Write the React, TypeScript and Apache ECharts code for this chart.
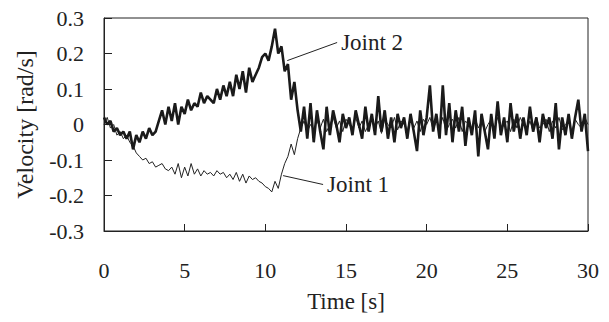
import React, { useEffect, useRef } from "react";
import * as echarts from "echarts";

const DT = 0.2;
const xTicks = [0, 5, 10, 15, 20, 25, 30];
const yTicks = [-0.3, -0.2, -0.1, 0, 0.1, 0.2, 0.3];

const joint2 = [
  0.02, 0.0, 0.01, -0.02, -0.01, -0.03, -0.02, -0.04, -0.02, -0.07,
  -0.03, -0.05, -0.02, -0.04, -0.01, -0.03, -0.02, 0.01, 0.04, 0.0,
  0.05, 0.01, 0.06, 0.0, 0.05, 0.03, 0.07, 0.04, 0.06, 0.05,
  0.09, 0.06, 0.08, 0.07, 0.06, 0.1, 0.07, 0.11, 0.08, 0.12,
  0.08, 0.14, 0.1, 0.15, 0.09, 0.16, 0.12, 0.14, 0.16, 0.19,
  0.2, 0.18, 0.22, 0.27, 0.2, 0.22, 0.15, 0.17, 0.07, 0.12,
  0.04, -0.02, 0.05, -0.04, 0.06, -0.05, 0.04, -0.02, -0.07, 0.05,
  -0.03, 0.04, 0.0, -0.05, 0.03, -0.01, 0.02, -0.03, 0.04, 0.0,
  -0.04, 0.05, -0.02, 0.03, -0.03, 0.08, -0.02, 0.04, -0.04, 0.02,
  -0.05, 0.03, -0.01, 0.02, -0.04, 0.03, -0.02, -0.075, 0.04, -0.03,
  0.02, 0.11, -0.02, 0.03, -0.04, 0.11, -0.03, 0.06, -0.05, 0.04,
  -0.02, 0.05, -0.06, 0.02, -0.03, 0.04, -0.09, 0.03, -0.02, -0.07,
  0.03, -0.04, 0.065, -0.03, 0.02, -0.05, 0.06, -0.02, 0.03, -0.04,
  0.02, -0.03, 0.05, -0.02, 0.02, -0.05, 0.03, -0.01, 0.02, -0.04,
  0.06, -0.07, 0.02, -0.03, 0.03, -0.04, 0.02, 0.07, -0.02, 0.03,
  -0.075,
];

const joint1 = [
  0.0, 0.02, -0.01, 0.0, -0.03, -0.02, -0.04, -0.03, -0.05, -0.06,
  -0.08, -0.09, -0.1, -0.095, -0.11, -0.105, -0.12, -0.115, -0.11, -0.125,
  -0.13, -0.12, -0.14, -0.11, -0.15, -0.12, -0.145, -0.11, -0.14, -0.125,
  -0.145, -0.13, -0.14, -0.135, -0.145, -0.13, -0.14, -0.135, -0.15, -0.14,
  -0.155, -0.135, -0.16, -0.14, -0.165, -0.145, -0.155, -0.15, -0.16, -0.165,
  -0.175, -0.18, -0.19, -0.16, -0.18, -0.14, -0.11, -0.09, -0.055, -0.085,
  -0.04, -0.01, 0.01, -0.02, 0.0, -0.015, 0.01, -0.01, 0.015, -0.02,
  0.0, 0.02, -0.01, 0.01, -0.02, 0.015, 0.0, -0.015, 0.02, -0.01,
  0.01, -0.02, 0.0, 0.02, -0.01, 0.01, -0.025, 0.015, 0.0, -0.01,
  0.02, -0.015, 0.01, 0.0, -0.02, 0.025, -0.01, 0.01, -0.02, 0.015,
  0.0, 0.02, -0.015, 0.01, -0.01, 0.02, -0.02, 0.0, 0.015, -0.01,
  0.02, -0.02, 0.01, 0.0, -0.015, 0.02, -0.01, 0.01, -0.02, 0.0,
  0.015, -0.01, 0.02, -0.015, 0.0, 0.01, -0.02, 0.015, -0.01, 0.02,
  0.0, -0.015, 0.01, -0.02, 0.02, -0.01, 0.0, 0.015, -0.02, 0.01,
  -0.01, 0.02, -0.015, 0.0, 0.01, -0.02, 0.015, 0.0, -0.01, 0.02,
  0.0,
];

const labelJoint2 = { text: "Joint 2", from: [11.36, 0.18], to: [14.45, 0.231] };
const labelJoint1 = { text: "Joint 1", from: [11.1, -0.144], to: [13.58, -0.169] };

const FONT = "'Liberation Serif', 'Times New Roman', Times, serif";

export default function App() {
  const ref = useRef<HTMLDivElement>(null);
  useEffect(() => {
    document.body.style.margin = "0";
    const chart = echarts.init(ref.current!, null, { renderer: "svg" });
    const toPairs = (arr: number[]) => arr.map((v, i) => [+(i * DT).toFixed(1), v]);
    chart.setOption({
      animation: false,
      backgroundColor: "#fff",
      textStyle: { fontFamily: FONT },
      grid: { left: 104, right: 21, top: 18, bottom: 91, show: true, borderColor: "#222", borderWidth: 1 },
      xAxis: {
        type: "value",
        min: 0,
        max: 30,
        interval: 5,
        name: "Time [s]",
        nameLocation: "middle",
        nameGap: 59,
        nameTextStyle: { fontFamily: FONT, fontSize: 23, color: "#222" },
        axisLine: { show: true, onZero: false, lineStyle: { color: "#222" } },
        axisTick: { show: true, inside: true, length: 7, lineStyle: { color: "#222" } },
        axisLabel: { fontFamily: FONT, fontSize: 22, color: "#222", margin: 28 },
        splitLine: { show: false },
      },
      yAxis: {
        type: "value",
        min: -0.3,
        max: 0.3,
        interval: 0.1,
        name: "Velocity [rad/s]",
        nameLocation: "middle",
        nameGap: 67,
        nameTextStyle: { fontFamily: FONT, fontSize: 24, color: "#222" },
        axisLine: { show: true, onZero: false, lineStyle: { color: "#222" } },
        axisTick: { show: true, inside: true, length: 8, lineStyle: { color: "#222" } },
        axisLabel: {
          fontFamily: FONT,
          fontSize: 22,
          color: "#222",
          margin: 20,
          formatter: (v: number) => {
            const r = Math.round(v * 10) / 10;
            return r === 0 ? "0" : r.toFixed(1);
          },
        },
        splitLine: { show: false },
      },
      series: [
        {
          name: "Joint 1",
          type: "line",
          data: toPairs(joint1),
          showSymbol: false,
          lineStyle: { color: "#222", width: 1 },
          z: 2,
        },
        {
          name: "Joint 2",
          type: "line",
          data: toPairs(joint2),
          showSymbol: false,
          lineStyle: { color: "#1a1a1a", width: 2.6 },
          z: 3,
        },
      ],
    });
    const mk = (l: { text: string; from: number[]; to: number[] }) => {
      const a = chart.convertToPixel({ gridIndex: 0 }, l.from) as number[];
      const b = chart.convertToPixel({ gridIndex: 0 }, l.to) as number[];
      return [
        { type: "line", shape: { x1: a[0], y1: a[1], x2: b[0], y2: b[1] }, style: { stroke: "#222", lineWidth: 1 } },
        {
          type: "text",
          x: b[0] + 4,
          y: b[1],
          style: { text: l.text, fontFamily: FONT, fontSize: 23, fill: "#222", verticalAlign: "middle", align: "left" },
        },
      ];
    };
    chart.setOption({ graphic: [...mk(labelJoint2), ...mk(labelJoint1)] });
    return () => chart.dispose();
  }, []);
  return <div ref={ref} style={{ width: 609, height: 322 }} />;
}
